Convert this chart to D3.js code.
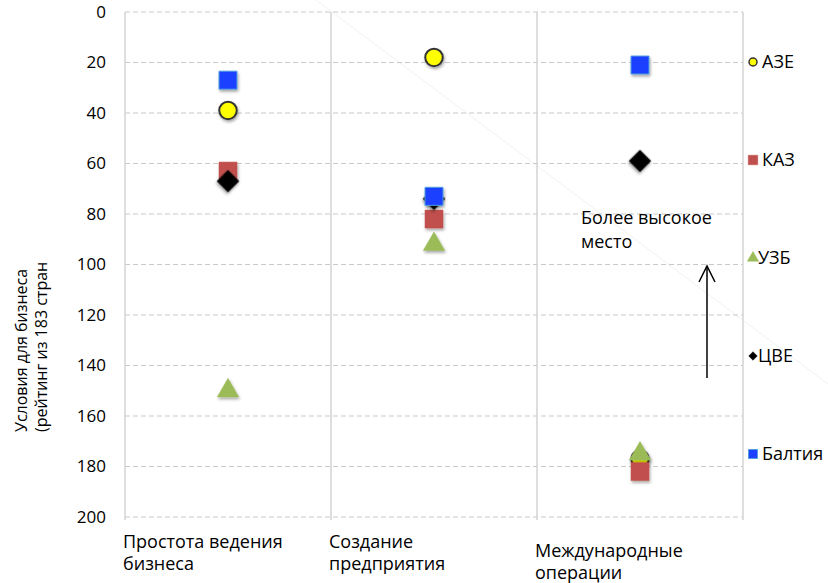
<!DOCTYPE html>
<html><head><meta charset="utf-8">
<script src="https://cdn.jsdelivr.net/npm/d3@7"></script>
<style>
body{margin:0;background:#fff;}
text{font-family:"Open Sans","Noto Sans",sans-serif;fill:#000;}
</style></head>
<body><svg id="c" width="828" height="583"></svg>
<script>
// ---- data ----
const categories = ["Простота ведения|бизнеса", "Создание|предприятия", "Международные|операции"];
const seriesNames = ["АЗЕ", "КАЗ", "УЗБ", "ЦВЕ", "Балтия"];
const AZE  = [39, 18, 177];
const KAZ  = [63, 82, 182];
const UZB  = [150, 92, 175];
const CVE  = [67, 74, 59];
const BALT = [27, 73, 21];
const yTicks = [0, 20, 40, 60, 80, 100, 120, 140, 160, 180, 200];
const yTitle = ["Условия для бизнеса", "(рейтинг  из 183 стран"];
const note = ["Более высокое", "место"];

const FS = "18px";
const svg = d3.select("#c");
const x = d3.scaleBand().domain(categories).range([125, 743]);
const y = d3.scaleLinear().domain([0, 200]).range([12, 517]);

// faint diagonal artifact
svg.append("line").attr("x1",316).attr("y1",0).attr("x2",828).attr("y2",384)
  .attr("stroke","#eef3f1").attr("stroke-width",1);

// grid
svg.append("g").selectAll("line").data(yTicks).join("line")
  .attr("x1",125).attr("x2",743).attr("y1",d=>y(d)).attr("y2",d=>y(d))
  .attr("stroke","#c9c9c9").attr("stroke-width",1.2).attr("stroke-dasharray","5,3");

// vertical separators
const vx = [125, ...categories.map(c=>x(c)+x.bandwidth())];
svg.append("g").selectAll("line").data(vx).join("line")
  .attr("x1",d=>d).attr("x2",d=>d).attr("y1",y(0)).attr("y2",y(200)+3)
  .attr("stroke","#d3d3d3").attr("stroke-width",1.5);

// y axis labels
const yAxis = d3.axisLeft(y).tickValues(yTicks).tickSize(0).tickPadding(0);
const ga = svg.append("g").attr("transform","translate(106,0)").call(yAxis);
ga.select(".domain").remove();
ga.selectAll("text").style("font-family",'"Open Sans","Noto Sans",sans-serif').style("font-size","17px").attr("fill","#000");

// y title
yTitle.forEach((t,i)=>{
  svg.append("text").attr("transform",`translate(${27+i*20},432) rotate(-90)`)
    .attr("text-anchor","start").style("font-size","16px").text(t);
});

// category labels
categories.forEach((c,i)=>{
  const lines = c.split("|");
  const base = i===2 ? 557 : 548;
  lines.forEach((l,j)=>{
    svg.append("text").attr("x",x(c)-2).attr("y",base+j*22).style("font-size",FS).text(l);
  });
});

// shadow filter
const defs = svg.append("defs");
const f = defs.append("filter").attr("id","sh").attr("x","-50%").attr("y","-50%").attr("width","200%").attr("height","200%");
f.append("feDropShadow").attr("dx",1).attr("dy",2).attr("stdDeviation",1.5).attr("flood-color","#000").attr("flood-opacity",0.35);

const styles = {
  "АЗЕ":   {type:d3.symbolCircle, size:240, fill:"#ffff00", stroke:"#333", sw:2, lsize:50, rot:0},
  "КАЗ":   {type:d3.symbolSquare, size:324, fill:"#c0504d", stroke:"#c0504d", sw:0.5, lsize:90, rot:0},
  "УЗБ":   {type:d3.symbolTriangle, size:200, fill:"#9bbb59", stroke:"#9bbb59", sw:0.5, lsize:55, rot:0},
  "ЦВЕ":   {type:d3.symbolSquare, size:240, fill:"#000", stroke:"#000", sw:0.5, lsize:36, rot:45},
  "Балтия":{type:d3.symbolSquare, size:324, fill:"#1f3fff", stroke:"#4f9fe0", sw:1, lsize:80, rot:0}
};
const values = {"АЗЕ":AZE, "КАЗ":KAZ, "УЗБ":UZB, "ЦВЕ":CVE, "Балтия":BALT};
const drawOrder = ["АЗЕ", "УЗБ", "КАЗ", "ЦВЕ", "Балтия"];

drawOrder.forEach(name=>{
  const s = styles[name];
  svg.append("g").selectAll("path").data(values[name]).join("path")
    .attr("d", d3.symbol().type(s.type).size(s.size))
    .attr("transform",(d,i)=>`translate(${x(categories[i])+x.bandwidth()/2},${y(d)}) rotate(${s.rot})`)
    .attr("fill",s.fill).attr("stroke",s.stroke).attr("stroke-width",s.sw)
    .attr("filter","url(#sh)");
});

// legend
const legY = d3.scalePoint().domain(seriesNames).range([62, 454]);
seriesNames.forEach(name=>{
  const s = styles[name];
  const g = svg.append("g").attr("transform",`translate(753,${legY(name)})`);
  g.append("path").attr("d", d3.symbol().type(s.type).size(s.lsize))
    .attr("transform",`rotate(${s.rot})`)
    .attr("fill",s.fill).attr("stroke",s.stroke).attr("stroke-width",name==="АЗЕ"?1.5:(name==="Балтия"?1:0.5));
  g.append("text").attr("x",name==="АЗЕ"||name==="КАЗ"||name==="Балтия"?9:5).attr("y",6).style("font-size",FS).text(name);
});

// annotation
note.forEach((t,i)=>{
  svg.append("text").attr("x",581).attr("y",224+i*24).style("font-size",FS).text(t);
});
svg.append("line").attr("x1",707).attr("y1",378).attr("x2",707).attr("y2",266)
  .attr("stroke","#000").attr("stroke-width",1.5);
svg.append("path").attr("d","M699,282 L707,266 L715,282").attr("fill","none")
  .attr("stroke","#000").attr("stroke-width",1.5);
</script></body></html>
